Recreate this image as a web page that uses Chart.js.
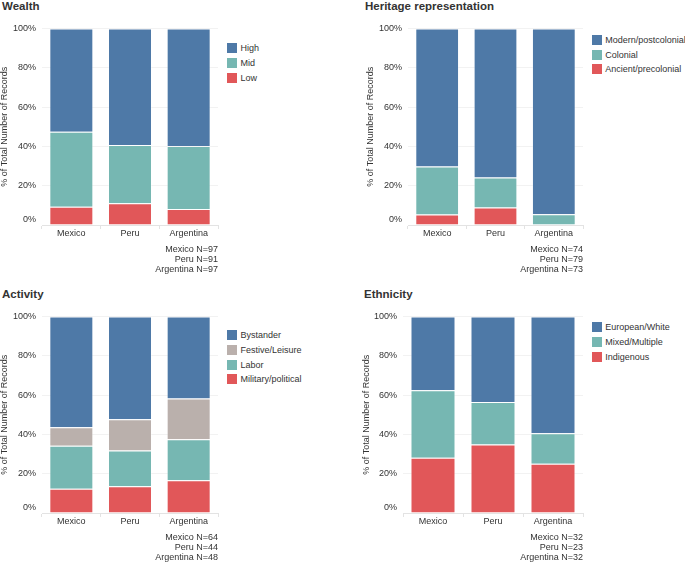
<!DOCTYPE html>
<html>
<head>
<meta charset="utf-8">
<script src="https://cdn.jsdelivr.net/npm/chart.js@4"></script>
<style>
  body { margin: 0; background: #fff; width: 685px; height: 565px; position: relative; overflow: hidden;
         font-family: "Liberation Sans", Arial, sans-serif; color: #333; }
  .title { position: absolute; font-weight: bold; font-size: 11.5px; line-height: 12px; white-space: nowrap; color: #333; }
  canvas { position: absolute; }
  .swatch { position: absolute; width: 10px; height: 10px; }
  .lbl { position: absolute; font-size: 9px; line-height: 10px; white-space: nowrap; color: #333; }
</style>
</head>
<body>
<script>
// categorias y ejes
const countries = ["Mexico", "Peru", "Argentina"];
const yTicks = [0, 20, 40, 60, 80, 100];

// Wealth (% por país)
const wealthLow = [9.3, 11.0, 8.2];
const wealthMid = [38.1, 29.7, 32.0];
const wealthHigh = [52.6, 59.3, 59.8];
const wealthN = [97, 91, 97];

// Heritage representation
const heritageAncient = [5.4, 8.9, 0];
const heritageColonial = [24.3, 15.2, 5.5];
const heritageModern = [70.3, 75.9, 94.5];
const heritageN = [74, 79, 73];

// Activity
const activityMilitary = [12.3, 13.6, 16.7];
const activityLabor = [21.9, 18.2, 20.8];
const activityFestive = [9.4, 15.9, 20.8];
const activityBystander = [56.4, 52.3, 41.7];
const activityN = [64, 44, 48];

// Ethnicity
const ethIndigenous = [28.1, 34.8, 25.0];
const ethMixed = [34.4, 21.7, 15.6];
const ethEuropean = [37.5, 43.5, 59.4];
const ethN = [32, 23, 32];

const BLUE = "#4e79a7", TEAL = "#76b7b2", RED = "#e15759", TAUPE = "#bab0ac";

Chart.defaults.font.family = '"Liberation Sans", Arial, sans-serif';
Chart.defaults.color = "#333";

function makePanel(p) {
  const t = document.createElement("div");
  t.className = "title";
  t.textContent = p.title;
  t.style.left = p.titleX + "px";
  t.style.top = p.titleY + "px";
  document.body.appendChild(t);

  const cv = document.createElement("canvas");
  cv.width = p.w; cv.height = p.h;
  cv.style.left = p.x + "px"; cv.style.top = p.y + "px";
  document.body.appendChild(cv);

  new Chart(cv.getContext("2d"), {
    type: "bar",
    data: {
      labels: countries,
      datasets: p.series.map((s) => ({
        label: s.label,
        data: s.data,
        backgroundColor: s.color,
        borderColor: "rgba(255,255,255,0.35)",
        borderWidth: 1,
        barPercentage: 1,
        categoryPercentage: 0.75,
      })),
    },
    options: {
      responsive: false,
      animation: false,
      layout: { padding: { top: 0, right: 2, left: 0, bottom: 0 } },
      plugins: { legend: { display: false }, tooltip: { enabled: false } },
      scales: {
        x: {
          stacked: true,
          grid: { drawOnChartArea: false, drawTicks: true, tickLength: 4, color: "#e3e3e3" },
          border: { color: "#e3e3e3" },
          ticks: { font: { size: 9 }, padding: -1 },
          title: {
            display: true,
            text: countries.map((c, i) => c + " N=" + p.n[i]),
            align: "end",
            font: { size: 9, lineHeight: "10px" },
            padding: 0,
          },
          afterFit: (s) => { s.height = 50; },
        },
        y: {
          stacked: true,
          min: 0,
          max: 100,
          afterBuildTicks: (s) => { s.ticks = yTicks.map((v) => ({ value: v })); },
          // la etiqueta 0% queda un poco arriba de la base, como en el original
          ticks: { callback: (v) => (v === 0 ? ["0%", ""] : v + "%"), font: { size: 9 }, padding: 6 },
          grid: { color: "#f2f2f2", drawTicks: false },
          border: { display: false },
          title: {
            display: true,
            text: "% of Total Number of Records",
            font: { size: 9, lineHeight: "10px" },
            padding: 0,
          },
          afterFit: (s) => { s.width = p.axisW; },
        },
      },
    },
  });

  // leyenda, de arriba hacia abajo
  p.series.slice().reverse().forEach((s, i) => {
    const cy = p.legY + i * p.legStep;
    const sw = document.createElement("div");
    sw.className = "swatch";
    sw.style.background = s.color;
    sw.style.left = p.legX + "px";
    sw.style.top = (cy - 5) + "px";
    document.body.appendChild(sw);
    const lb = document.createElement("div");
    lb.className = "lbl";
    lb.textContent = s.label;
    lb.style.left = (p.legX + 13.5) + "px";
    lb.style.top = (cy - 5) + "px";
    document.body.appendChild(lb);
  });
}

makePanel({
  title: "Wealth", titleX: 2, titleY: 0,
  x: 0, y: 17, w: 220, h: 258, axisW: 42,
  legX: 227, legY: 48.3, legStep: 14.7,
  n: wealthN,
  series: [
    { label: "Low", data: wealthLow, color: RED },
    { label: "Mid", data: wealthMid, color: TEAL },
    { label: "High", data: wealthHigh, color: BLUE },
  ],
});

makePanel({
  title: "Heritage representation", titleX: 365, titleY: 0,
  x: 366, y: 17, w: 219, h: 258, axisW: 42,
  legX: 591.7, legY: 40, legStep: 14.7,
  n: heritageN,
  series: [
    { label: "Ancient/precolonial", data: heritageAncient, color: RED },
    { label: "Colonial", data: heritageColonial, color: TEAL },
    { label: "Modern/postcolonial", data: heritageModern, color: BLUE },
  ],
});

makePanel({
  title: "Activity", titleX: 2, titleY: 288,
  x: 0, y: 305, w: 220, h: 258, axisW: 42,
  legX: 227, legY: 335, legStep: 14.8,
  n: activityN,
  series: [
    { label: "Military/political", data: activityMilitary, color: RED },
    { label: "Labor", data: activityLabor, color: TEAL },
    { label: "Festive/Leisure", data: activityFestive, color: TAUPE },
    { label: "Bystander", data: activityBystander, color: BLUE },
  ],
});

makePanel({
  title: "Ethnicity", titleX: 364, titleY: 288,
  x: 362, y: 305, w: 223, h: 258, axisW: 41,
  legX: 591.7, legY: 327.3, legStep: 14.7,
  n: ethN,
  series: [
    { label: "Indigenous", data: ethIndigenous, color: RED },
    { label: "Mixed/Multiple", data: ethMixed, color: TEAL },
    { label: "European/White", data: ethEuropean, color: BLUE },
  ],
});
</script>
</body>
</html>
